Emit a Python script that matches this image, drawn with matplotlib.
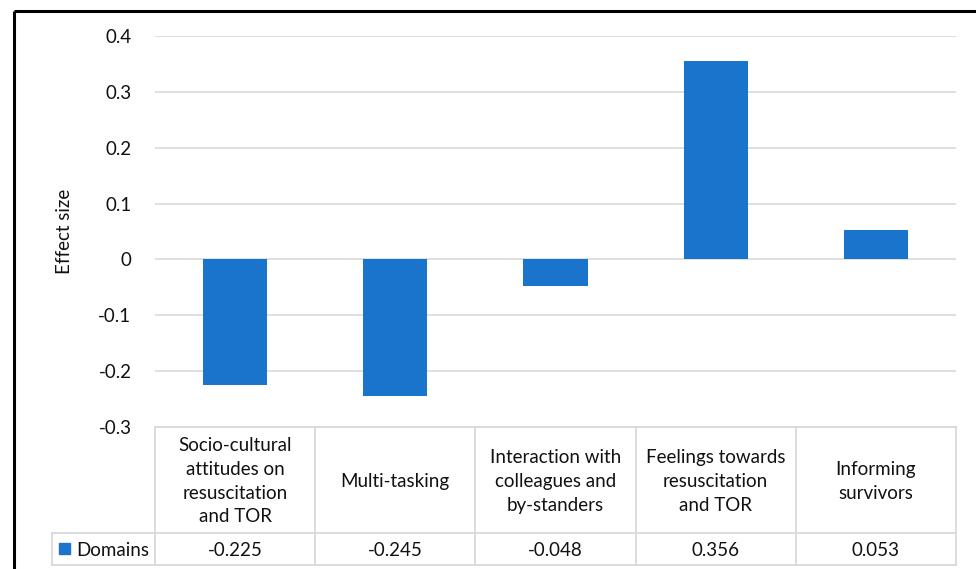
import matplotlib
matplotlib.use("Agg")
import matplotlib.pyplot as plt
from matplotlib.patches import Rectangle

plt.rcParams['font.family'] = ['Lato', 'DejaVu Sans']

categories = [
    "Socio-cultural\nattitudes on\nresuscitation\nand TOR",
    "Multi-tasking",
    "Interaction with\ncolleagues and\nby-standers",
    "Feelings towards\nresuscitation\nand TOR",
    "Informing\nsurvivors",
]
values = [-0.225, -0.245, -0.048, 0.356, 0.053]
value_labels = ["-0.225", "-0.245", "-0.048", "0.356", "0.053"]
series_name = "Domains"
yticks = [-0.3, -0.2, -0.1, 0.0, 0.1, 0.2, 0.3, 0.4]
ytick_labels = ["-0.3", "-0.2", "-0.1", "0", "0.1", "0.2", "0.3", "0.4"]

W, H = 976, 569
bar_color = "#1b74cb"
grid_color = "#d9d9d9"
text_color = "#111111"
fs = 13.5

fig = plt.figure(figsize=(W / 100, H / 100), dpi=100)

# plot area in pixel coordinates
px_l, px_r, px_t, px_b = 155, 956, 36, 427
ax = fig.add_axes([px_l / W, 1 - px_b / H, (px_r - px_l) / W, (px_b - px_t) / H])
n = len(values)
x = list(range(n))
ax.bar(x, values, width=0.4, color=bar_color, zorder=3)
ax.set_xlim(-0.5, n - 0.5)
ax.set_ylim(-0.3, 0.4)
ax.set_yticks(yticks)
ax.set_yticklabels(ytick_labels, fontsize=fs, color=text_color)
ax.tick_params(axis='y', length=0, pad=17)
ax.set_xticks([])
for s in ax.spines.values():
    s.set_visible(False)
ax.grid(axis='y', color=grid_color, linewidth=1.2, zorder=0)
ax.set_axisbelow(True)
ax.set_ylabel("Effect size", fontsize=fs, color=text_color, labelpad=18)

# overlay axes in pixel coordinates for the data table and frame
ov = fig.add_axes([0, 0, 1, 1], facecolor='none')
ov.set_xlim(0, W)
ov.set_ylim(H, 0)
ov.axis('off')

tbl_top, tbl_mid, tbl_bot = 427, 533, 565
leg_left = 52
col_w = (px_r - px_l) / n
lw = 1.3
ov.plot([px_l, px_r], [tbl_top, tbl_top], color=grid_color, lw=lw)
ov.plot([leg_left, px_r], [tbl_mid, tbl_mid], color=grid_color, lw=lw)
ov.plot([leg_left, px_r], [tbl_bot, tbl_bot], color=grid_color, lw=lw)
ov.plot([leg_left, leg_left], [tbl_mid, tbl_bot], color=grid_color, lw=lw)
for i in range(n + 1):
    xc = px_l + i * col_w
    ov.plot([xc, xc], [tbl_top, tbl_bot], color=grid_color, lw=lw)

for i in range(n):
    cx = px_l + (i + 0.5) * col_w
    ov.text(cx, (tbl_top + tbl_mid) / 2 + 1, categories[i], ha='center', va='center',
            fontsize=fs, color=text_color, linespacing=1.5)
    ov.text(cx, (tbl_mid + tbl_bot) / 2 + 1, value_labels[i], ha='center', va='center',
            fontsize=fs, color=text_color)

ov.add_patch(Rectangle((59, 543), 11, 11, color=bar_color))
ov.text(76, (tbl_mid + tbl_bot) / 2 + 1, series_name, ha='left', va='center',
        fontsize=fs, color=text_color)

# chart frame
ov.plot([14, 14], [11, H + 5], color='black', lw=2.2, solid_capstyle='butt')
ov.plot([14, W + 5], [11, 11], color='black', lw=2.2, solid_capstyle='butt')

fig.savefig("out.png", dpi=100)
